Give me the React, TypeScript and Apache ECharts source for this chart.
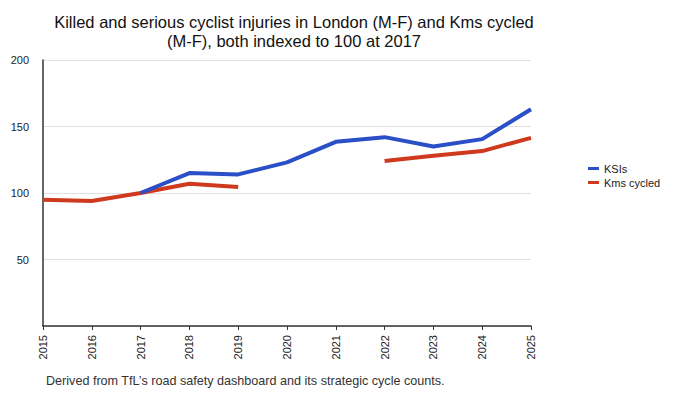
import React, { useEffect, useRef } from "react";
import * as echarts from "echarts";

const years = ["2015", "2016", "2017", "2018", "2019", "2020", "2021", "2022", "2023", "2024", "2025"];
const ksis = [null, null, 100, 115, 114, 123, 138.5, 142, 135, 140.5, 163];
const kms = [95, 94, 100, 107, 104.5, null, null, 124, 128, 131.5, 141.5];
const yTicks = [0, 50, 100, 150, 200];

const FONT = "'Liberation Sans', Arial, Helvetica, sans-serif";

export default function App() {
  const ref = useRef<HTMLDivElement>(null);
  useEffect(() => {
    document.body.style.margin = "0";
    const chart = echarts.init(ref.current!, null, { renderer: "svg" });
    chart.setOption({
      animation: false,
      textStyle: { fontFamily: FONT },
      title: {
        text: "Killed and serious cyclist injuries in London (M-F) and Kms cycled\n(M-F), both indexed to 100 at 2017",
        left: 289,
        textAlign: "center",
        top: 7,
        textStyle: { fontSize: 16.5, fontWeight: "normal", color: "#111", lineHeight: 19.5, fontFamily: FONT },
      },
      legend: {
        orient: "vertical",
        left: 583,
        top: 158,
        icon: "rect",
        itemWidth: 11,
        itemHeight: 3,
        itemGap: 3,
        textStyle: { fontSize: 11, color: "#222", fontFamily: FONT },
        data: ["KSIs", "Kms cycled"],
      },
      grid: { left: 43, right: 149, top: 60, bottom: 74 },
      xAxis: {
        type: "category",
        data: years,
        boundaryGap: false,
        axisLine: { lineStyle: { color: "#333", width: 1.5 } },
        axisTick: { show: true, length: 4, lineStyle: { color: "#333" } },
        axisLabel: { rotate: 90, fontSize: 11, color: "#222", margin: 9, fontFamily: FONT },
        splitLine: { show: false },
      },
      yAxis: {
        type: "value",
        min: yTicks[0],
        max: yTicks[yTicks.length - 1],
        interval: 50,
        axisLine: { show: true, lineStyle: { color: "#333", width: 1.5 } },
        axisTick: { show: false },
        axisLabel: {
          fontSize: 11,
          color: "#222",
          margin: 14,
          fontFamily: FONT,
          formatter: (v: number) => (v === 0 ? "" : String(v)),
        },
        splitLine: { show: true, lineStyle: { color: "#e0e0e0", width: 1 } },
      },
      series: [
        {
          name: "KSIs",
          type: "line",
          data: ksis,
          showSymbol: false,
          symbol: "none",
          connectNulls: false,
          lineStyle: { color: "#2a4fc6", width: 4 },
          itemStyle: { color: "#2a4fc6" },
          z: 3,
        },
        {
          name: "Kms cycled",
          type: "line",
          data: kms,
          showSymbol: false,
          symbol: "none",
          connectNulls: false,
          lineStyle: { color: "#cf3a1f", width: 4 },
          itemStyle: { color: "#cf3a1f" },
          z: 2,
        },
      ],
      graphic: [
        {
          type: "text",
          left: 46,
          top: 374,
          style: {
            text: "Derived from TfL\u2019s road safety dashboard and its strategic cycle counts.",
            fontSize: 12.6,
            fill: "#333",
            fontFamily: FONT,
          },
        },
      ],
    });
    return () => chart.dispose();
  }, []);
  return <div ref={ref} style={{ width: 680, height: 400 }} />;
}
